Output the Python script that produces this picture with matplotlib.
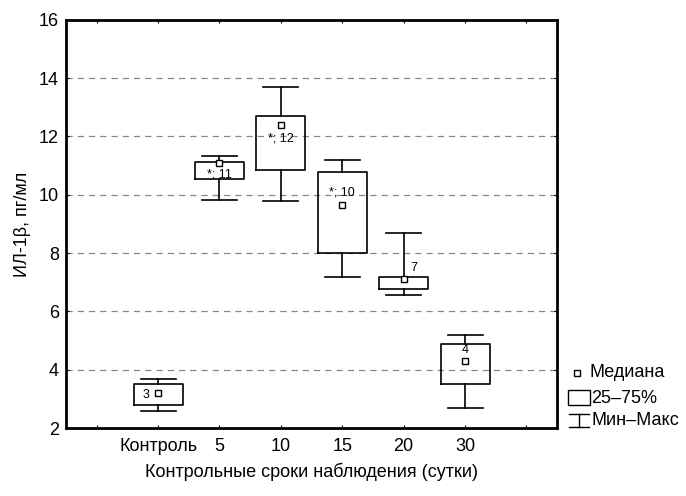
import matplotlib
matplotlib.use('Agg')
import matplotlib.pyplot as plt
from matplotlib.patches import Rectangle
from matplotlib.lines import Line2D

plt.rcParams['font.family'] = ['Liberation Sans', 'DejaVu Sans']

# Data
groups = ['Контроль', '5', '10', '15', '20', '30']
medians = [3.19, 11.08, 12.39, 9.65, 7.10, 4.31]
q1 = [2.79, 10.53, 10.84, 7.99, 6.78, 3.50]
q3 = [3.50, 11.14, 12.69, 10.79, 7.19, 4.88]
mins = [2.58, 9.83, 9.79, 7.19, 6.56, 2.70]
maxs = [3.69, 11.34, 13.70, 11.20, 8.68, 5.19]
notes = ['3', '*; 11', '*; 12', '*; 10', '7', '4']
# offset of each note from its median, in points
note_offsets = [(-9, -1), (0, -8), (0, -10), (0, 9), (7, 8), (0, 8)]

fig = plt.figure(figsize=(6.86, 4.96), dpi=100)
ax = fig.add_axes([0.0962, 0.137, 0.716, 0.823])

positions = list(range(1, len(groups) + 1))
stats = []
for i in range(len(groups)):
    stats.append({'med': medians[i], 'q1': q1[i], 'q3': q3[i],
                  'whislo': mins[i], 'whishi': maxs[i], 'mean': medians[i]})

ax.bxp(stats, positions=positions, widths=0.8, capwidths=0.57,
       showfliers=False, showmeans=True,
       boxprops=dict(color='black', linewidth=1.2),
       whiskerprops=dict(color='black', linewidth=1.2),
       capprops=dict(color='black', linewidth=1.2),
       medianprops=dict(visible=False),
       meanprops=dict(marker='s', markerfacecolor='white',
                      markeredgecolor='black', markersize=5,
                      markeredgewidth=1.0))

for i, txt in enumerate(notes):
    ax.annotate(txt, (positions[i], medians[i]), xytext=note_offsets[i],
                textcoords='offset points', ha='center', va='center',
                fontsize=9)

ax.set_xlim(-0.5, 7.5)
ax.set_ylim(2, 16)
ax.set_xticks(range(0, 8))
ax.set_xticklabels([''] + groups + [''], fontsize=13)
ax.set_yticks(range(2, 17, 2))
ax.tick_params(axis='y', labelsize=13, direction='in', length=2, pad=5)
ax.tick_params(axis='x', direction='in', length=2, top=True, pad=7)
ax.tick_params(axis='y', right=True)

for y in range(4, 16, 2):
    ax.axhline(y, color='#888888', linestyle=(0, (5, 4)), linewidth=0.9, zorder=0)

for s in ax.spines.values():
    s.set_linewidth(2)

ax.set_ylabel('ИЛ-1β, пг/мл', fontsize=13, labelpad=6)
ax.set_xlabel('Контрольные сроки наблюдения (сутки)', fontsize=13, labelpad=6)

# Legend drawn by hand outside the axes
tr = fig.transFigure
fig.add_artist(Line2D([0.841], [0.248], marker='s', markersize=5,
                      markerfacecolor='white', markeredgecolor='black',
                      transform=tr))
fig.text(0.860, 0.248, 'Медиана', va='center', fontsize=13)
fig.add_artist(Rectangle((0.828, 0.183), 0.032, 0.03, fill=False,
                         edgecolor='black', linewidth=1.0, transform=tr))
fig.text(0.862, 0.196, '25–75%', va='center', fontsize=13)
fig.add_artist(Line2D([0.830, 0.858], [0.165, 0.165], color='black', lw=1.0, transform=tr))
fig.add_artist(Line2D([0.830, 0.858], [0.139, 0.139], color='black', lw=1.0, transform=tr))
fig.add_artist(Line2D([0.844, 0.844], [0.139, 0.165], color='black', lw=1.0, transform=tr))
fig.text(0.862, 0.152, 'Мин–Макс', va='center', fontsize=13)

fig.savefig('out.png', dpi=100)
